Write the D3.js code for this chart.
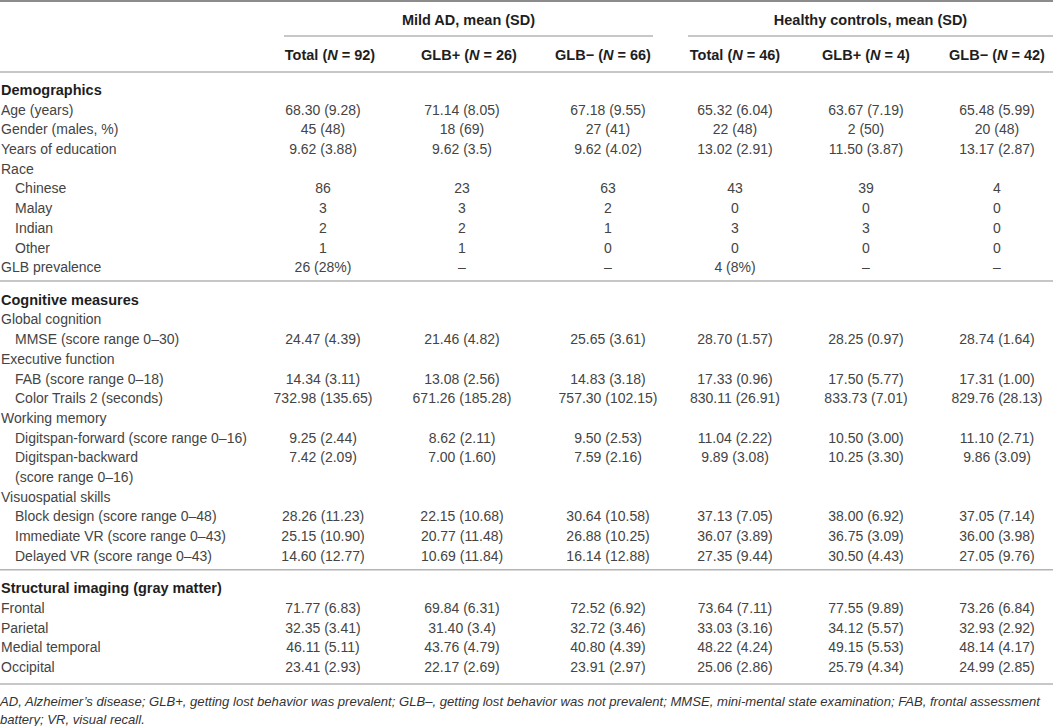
<!DOCTYPE html>
<html>
<head>
<meta charset="utf-8">
<script src="https://cdn.jsdelivr.net/npm/d3@7"></script>
<style>
  html, body { margin: 0; padding: 0; background: #fff; }
  svg { display: block; }
</style>
</head>
<body>
<div id="table-container"></div>
<script>
// Column groups and sub headers
var groups = ["Mild AD, mean (SD)", "Healthy controls, mean (SD)"];
var colKeys = ["adTotal", "adPlus", "adMinus", "hcTotal", "hcPlus", "hcMinus"];
var colNames = ["Total", "GLB+", "GLB\u2212", "Total", "GLB+", "GLB\u2212"];
var colN = ["92", "26", "66", "46", "4", "42"];

// Demographics
var demoLabels = ["Age (years)", "Gender (males, %)", "Years of education", "Race",
  "Chinese", "Malay", "Indian", "Other", "GLB prevalence"];
var demoLevels = [0, 0, 0, 0, 1, 1, 1, 1, 0];
var demoValues = [
  ["68.30 (9.28)", "71.14 (8.05)", "67.18 (9.55)", "65.32 (6.04)", "63.67 (7.19)", "65.48 (5.99)"],
  ["45 (48)", "18 (69)", "27 (41)", "22 (48)", "2 (50)", "20 (48)"],
  ["9.62 (3.88)", "9.62 (3.5)", "9.62 (4.02)", "13.02 (2.91)", "11.50 (3.87)", "13.17 (2.87)"],
  null,
  ["86", "23", "63", "43", "39", "4"],
  ["3", "3", "2", "0", "0", "0"],
  ["2", "2", "1", "3", "3", "0"],
  ["1", "1", "0", "0", "0", "0"],
  ["26 (28%)", "\u2013", "\u2013", "4 (8%)", "\u2013", "\u2013"]
];

// Cognitive measures
var cogLabels = ["Global cognition", "MMSE (score range 0\u201330)", "Executive function",
  "FAB (score range 0\u201318)", "Color Trails 2 (seconds)", "Working memory",
  "Digitspan-forward (score range 0\u201316)", "Digitspan-backward\n(score range 0\u201316)",
  "Visuospatial skills", "Block design (score range 0\u201348)",
  "Immediate VR (score range 0\u201343)", "Delayed VR (score range 0\u201343)"];
var cogLevels = [0, 1, 0, 1, 1, 0, 1, 1, 0, 1, 1, 1];
var cogValues = [
  null,
  ["24.47 (4.39)", "21.46 (4.82)", "25.65 (3.61)", "28.70 (1.57)", "28.25 (0.97)", "28.74 (1.64)"],
  null,
  ["14.34 (3.11)", "13.08 (2.56)", "14.83 (3.18)", "17.33 (0.96)", "17.50 (5.77)", "17.31 (1.00)"],
  ["732.98 (135.65)", "671.26 (185.28)", "757.30 (102.15)", "830.11 (26.91)", "833.73 (7.01)", "829.76 (28.13)"],
  null,
  ["9.25 (2.44)", "8.62 (2.11)", "9.50 (2.53)", "11.04 (2.22)", "10.50 (3.00)", "11.10 (2.71)"],
  ["7.42 (2.09)", "7.00 (1.60)", "7.59 (2.16)", "9.89 (3.08)", "10.25 (3.30)", "9.86 (3.09)"],
  null,
  ["28.26 (11.23)", "22.15 (10.68)", "30.64 (10.58)", "37.13 (7.05)", "38.00 (6.92)", "37.05 (7.14)"],
  ["25.15 (10.90)", "20.77 (11.48)", "26.88 (10.25)", "36.07 (3.89)", "36.75 (3.09)", "36.00 (3.98)"],
  ["14.60 (12.77)", "10.69 (11.84)", "16.14 (12.88)", "27.35 (9.44)", "30.50 (4.43)", "27.05 (9.76)"]
];

// Structural imaging
var imgLabels = ["Frontal", "Parietal", "Medial temporal", "Occipital"];
var imgLevels = [0, 0, 0, 0];
var imgValues = [
  ["71.77 (6.83)", "69.84 (6.31)", "72.52 (6.92)", "73.64 (7.11)", "77.55 (9.89)", "73.26 (6.84)"],
  ["32.35 (3.41)", "31.40 (3.4)", "32.72 (3.46)", "33.03 (3.16)", "34.12 (5.57)", "32.93 (2.92)"],
  ["46.11 (5.11)", "43.76 (4.79)", "40.80 (4.39)", "48.22 (4.24)", "49.15 (5.53)", "48.14 (4.17)"],
  ["23.41 (2.93)", "22.17 (2.69)", "23.91 (2.97)", "25.06 (2.86)", "25.79 (4.34)", "24.99 (2.85)"]
];

var sections = [
  { title: "Demographics", labels: demoLabels, levels: demoLevels, values: demoValues },
  { title: "Cognitive measures", labels: cogLabels, levels: cogLevels, values: cogValues },
  { title: "Structural imaging (gray matter)", labels: imgLabels, levels: imgLevels, values: imgValues }
];

var footnote = [
  "AD, Alzheimer\u2019s disease; GLB+, getting lost behavior was prevalent; GLB\u2013, getting lost behavior was not prevalent; MMSE, mini-mental state examination; FAB, frontal assessment",
  "battery; VR, visual recall."
];

// Layout
var width = 1053, height = 726;
var font = "'Liberation Sans', Arial, Helvetica, sans-serif";
var textColor = "#444";
var boldColor = "#1e1e1e";
var ruleColor = "#b4b4b4";

var svg = d3.select("#table-container")
  .append("svg")
  .attr("width", width)
  .attr("height", height)
  .style("font-family", font);

// column positions
var xData = d3.scaleOrdinal().domain(colKeys).range([323, 462, 608, 735, 866, 997]);
var xHead = d3.scaleOrdinal().domain(colKeys).range([330, 469, 603, 735, 866, 997]);
var xGroup = d3.scaleOrdinal().domain(groups).range([[284, 653], [688, 1053]]);
var xLabel = d3.scaleOrdinal().domain([0, 1]).range([1, 15]);

// row slot -> y (centre of text line)
var yRow = d3.scaleLinear().domain([0, 1]).range([90, 109.7]);

// build flat row list with slots
var rows = [], rules = [], slot = 0;
sections.forEach(function(sec, si) {
  rows.push({ slot: slot, label: sec.title, level: 0, bold: true, values: null });
  slot += 1;
  sec.labels.forEach(function(lab, i) {
    var parts = lab.split("\n");
    rows.push({ slot: slot, label: parts[0], level: sec.levels[i], bold: false, values: sec.values[i] });
    for (var k = 1; k < parts.length; k++) {
      rows.push({ slot: slot + k, label: parts[k], level: sec.levels[i], bold: false, values: null });
    }
    slot += parts.length;
  });
  var last = slot - 1;
  if (si < sections.length - 1) {
    rules.push(last + 0.7);
    slot = last + 1.65;
  } else {
    rules.push(last + 0.85);
    slot = last + 1.75;
  }
});
var footSlot = slot;

// top rule
svg.append("line")
  .attr("x1", 0).attr("x2", width)
  .attr("y1", 1).attr("y2", 1)
  .attr("stroke", "#8c8c8c")
  .attr("stroke-width", 2);

// group headers
svg.selectAll("text.group")
  .data(groups)
  .enter()
  .append("text")
  .attr("class", "group")
  .attr("x", function(d) { return (xGroup(d)[0] + xGroup(d)[1]) / 2; })
  .attr("y", 20)
  .attr("dy", "0.35em")
  .attr("text-anchor", "middle")
  .attr("font-size", "14.5px")
  .attr("font-weight", "bold")
  .attr("fill", boldColor)
  .text(function(d) { return d; });

svg.selectAll("line.group")
  .data(groups)
  .enter()
  .append("line")
  .attr("class", "group")
  .attr("x1", function(d) { return xGroup(d)[0]; })
  .attr("x2", function(d) { return xGroup(d)[1]; })
  .attr("y1", 36).attr("y2", 36)
  .attr("stroke", ruleColor)
  .attr("stroke-width", 1.5);

// column sub headers: "Total (N = 92)" with italic N
var sub = svg.selectAll("text.sub")
  .data(colKeys)
  .enter()
  .append("text")
  .attr("class", "sub")
  .attr("x", function(d) { return xHead(d); })
  .attr("y", 55)
  .attr("dy", "0.35em")
  .attr("text-anchor", "middle")
  .attr("font-size", "14.5px")
  .attr("font-weight", "bold")
  .attr("fill", boldColor);
sub.append("tspan").text(function(d, i) { return colNames[i] + " ("; });
sub.append("tspan").attr("font-style", "italic").text("N");
sub.append("tspan").text(function(d, i) { return " = " + colN[i] + ")"; });

svg.append("line")
  .attr("x1", 0).attr("x2", width)
  .attr("y1", 72).attr("y2", 72)
  .attr("stroke", ruleColor)
  .attr("stroke-width", 1.5);

// row labels
svg.selectAll("text.label")
  .data(rows)
  .enter()
  .append("text")
  .attr("class", "label")
  .attr("x", function(d) { return xLabel(d.level); })
  .attr("y", function(d) { return yRow(d.slot); })
  .attr("dy", "0.35em")
  .attr("font-size", function(d) { return d.bold ? "14.5px" : "14px"; })
  .attr("font-weight", function(d) { return d.bold ? "bold" : "normal"; })
  .attr("fill", function(d) { return d.bold ? boldColor : textColor; })
  .text(function(d) { return d.label; });

// cell values
var cells = [];
rows.forEach(function(r) {
  if (!r.values) return;
  r.values.forEach(function(v, j) { cells.push({ slot: r.slot, col: colKeys[j], value: v }); });
});

svg.selectAll("text.cell")
  .data(cells)
  .enter()
  .append("text")
  .attr("class", "cell")
  .attr("x", function(d) { return xData(d.col); })
  .attr("y", function(d) { return yRow(d.slot); })
  .attr("dy", "0.35em")
  .attr("text-anchor", "middle")
  .attr("font-size", "14px")
  .attr("fill", textColor)
  .text(function(d) { return d.value; });

// section rules
svg.selectAll("line.rule")
  .data(rules)
  .enter()
  .append("line")
  .attr("class", "rule")
  .attr("x1", 0).attr("x2", width)
  .attr("y1", function(d) { return yRow(d); })
  .attr("y2", function(d) { return yRow(d); })
  .attr("stroke", ruleColor)
  .attr("stroke-width", 1.5);

// footnote
svg.selectAll("text.foot")
  .data(footnote)
  .enter()
  .append("text")
  .attr("class", "foot")
  .attr("x", 0)
  .attr("y", function(d, i) { return yRow(footSlot) + i * 17.5; })
  .attr("dy", "0.35em")
  .attr("font-size", "13.1px")
  .attr("font-style", "italic")
  .attr("fill", "#333")
  .text(function(d) { return d; });
</script>
</body>
</html>
